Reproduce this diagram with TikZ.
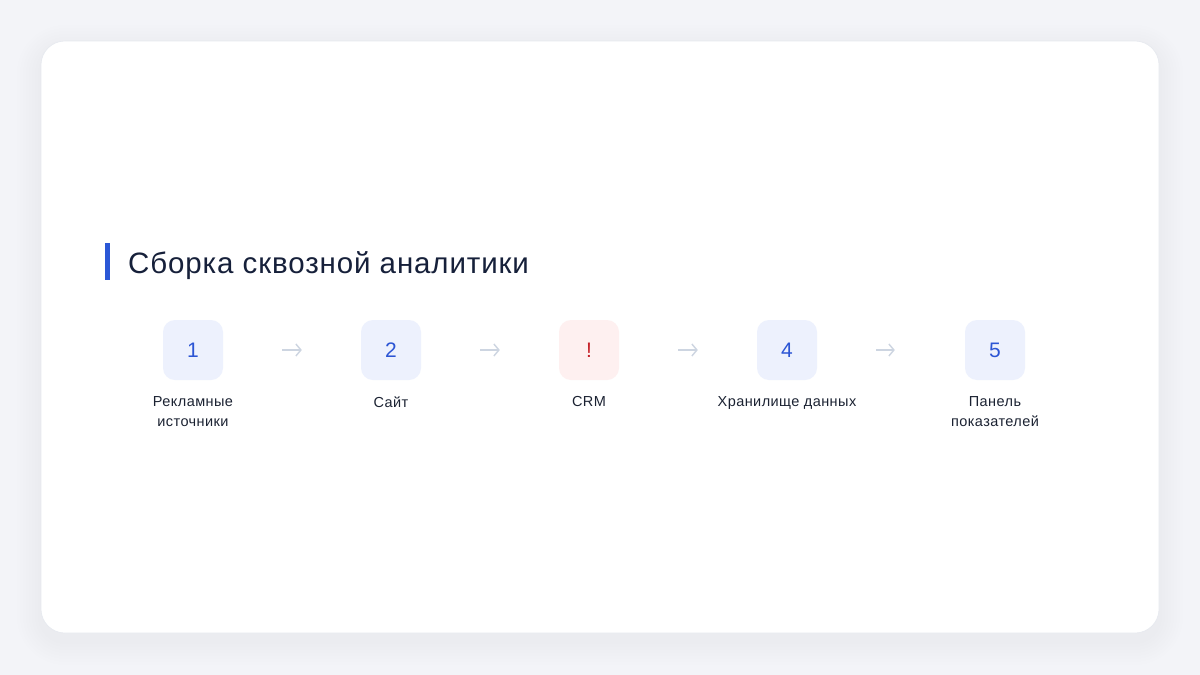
\documentclass[tikz,border=0pt]{standalone}
\usepackage{fontspec}
\setmainfont[LetterSpace=3]{Liberation Sans}
\usetikzlibrary{arrows.meta}
\definecolor{pagebg}{HTML}{F3F4F8}
\definecolor{cardline}{HTML}{E6E9EF}
\definecolor{titleink}{HTML}{16203A}
\definecolor{barblue}{HTML}{2B57D6}
\definecolor{boxblue}{HTML}{EDF1FD}
\definecolor{numblue}{HTML}{2C55D4}
\definecolor{boxred}{HTML}{FEF0F0}
\definecolor{numred}{HTML}{C62229}
\definecolor{arrowgrey}{HTML}{CDD5E1}
\definecolor{labelink}{HTML}{1B2232}

\begin{document}
\begin{tikzpicture}[x=1pt,y=-1pt,
	stepbox/.style={fill=boxblue,rounded corners=12pt,minimum size=60pt,inner sep=0pt,text=numblue,font=\fontsize{21}{24}\selectfont},
	warnbox/.style={stepbox,fill=boxred,text=numred},
	steplabel/.style={below,inner sep=0pt,align=center,text=labelink,font=\fontsize{14.5}{20}\selectfont},
	flow/.style={-{Straight Barb[length=5pt,width=12pt]},line width=1.4pt,draw=arrowgrey,shorten <=59pt,shorten >=59pt}]
						\useasboundingbox (0,0) rectangle (1200,675);
						\fill[pagebg] (0,0) rectangle (1200,675);
						
						\foreach \s in {24,21,...,3}
							\fill[black, opacity=0.004, rounded corners=24pt+\s pt] (41-\s,41-\s+8) rectangle (1159+\s,633+\s+8);
						\fill[white, draw=cardline, line width=0.6pt, rounded corners=24pt] (41,41) rectangle (1159,633);
						
						\fill[barblue] (105,243) rectangle (110,280);
						\node (title) at (128,273.5) [anchor=base west, inner sep=0pt, text=titleink, font=\fontsize{29.5}{32}\selectfont] {Сборка сквозной аналитики};
						
						\node (src) at (193,350) [stepbox] {1};
						\node (site) at (391,350) [stepbox] {2};
						\node (crm) at (589,350) [warnbox] {!};
						\node (dwh) at (787,350) [stepbox] {4};
						\node (dash) at (995,350) [stepbox] {5};
						
						\draw[flow] (src) -- (site);
						\draw[flow] (site) -- (crm);
						\draw[flow] (crm) -- (dwh);
						\draw[flow, shorten >=70pt] (dwh) -- (dash);
						
						\node (srcT) at (193,396.5) [steplabel] {Рекламные\\источники};
						\node (siteT) at (391,396.5) [steplabel] {Сайт};
						\node (crmT) at (589,396.5) [steplabel] {CRM};
						\node (dwhT) at (787,396.5) [steplabel] {Хранилище данных};
						\node (dashT) at (995,396.5) [steplabel] {Панель\\показателей};
					\end{tikzpicture}
\end{document}
